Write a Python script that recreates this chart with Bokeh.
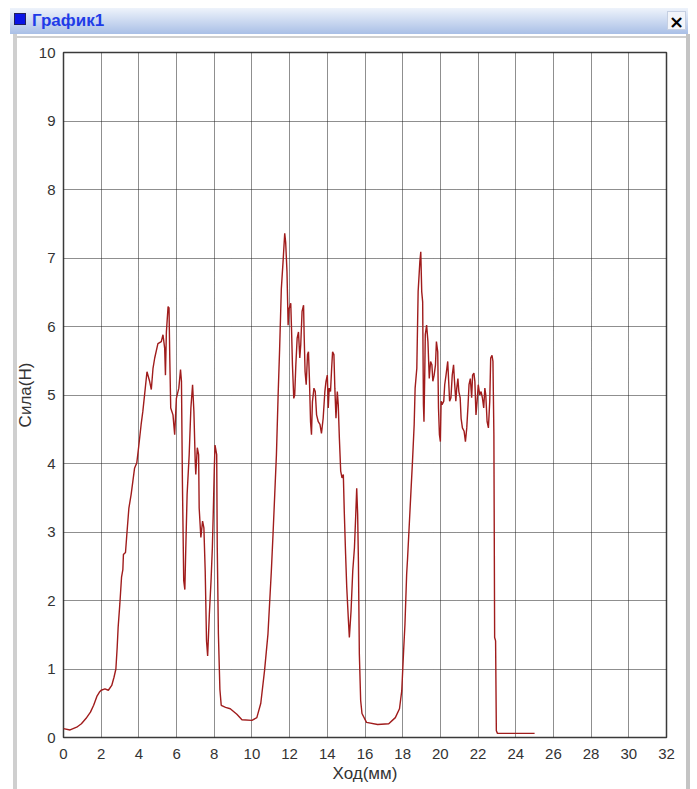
from bokeh.plotting import figure
from bokeh.models import Range1d, FixedTicker, Div
from bokeh.layouts import column
from bokeh.embed import file_html
from bokeh.resources import INLINE

# ---------------- data ----------------
travel_mm = [
    0.0, 0.35, 0.7, 0.95, 1.2, 1.43, 1.6, 1.77, 1.9, 2.0, 2.2, 2.38, 2.56, 2.68, 2.78, 2.85, 2.9, 2.99, 3.08, 3.15,
    3.18, 3.29, 3.36, 3.47, 3.59, 3.68, 3.77, 3.89, 4.0, 4.12, 4.21, 4.34, 4.43, 4.57, 4.66, 4.75, 4.84, 5.01, 5.19, 5.28,
    5.37, 5.41, 5.46, 5.55, 5.6, 5.64, 5.69, 5.81, 5.9, 5.99, 6.12, 6.21, 6.26, 6.31, 6.38, 6.44, 6.49, 6.56, 6.67, 6.76,
    6.85, 6.92, 6.99, 7.02, 7.1, 7.17, 7.2, 7.29, 7.38, 7.45, 7.52, 7.59, 7.65, 7.74, 7.83, 7.9, 7.95, 8.0, 8.04, 8.13,
    8.16, 8.22, 8.3, 8.37, 8.6, 8.85, 9.2, 9.47, 10.0, 10.26, 10.47, 10.67, 10.85, 11.03, 11.12, 11.21, 11.3, 11.39, 11.47, 11.56,
    11.65, 11.74, 11.79, 11.86, 11.92, 11.97, 12.06, 12.1, 12.15, 12.22, 12.27, 12.33, 12.4, 12.47, 12.54, 12.59, 12.66, 12.74, 12.77, 12.82,
    12.88, 12.95, 13.0, 13.05, 13.11, 13.16, 13.21, 13.29, 13.36, 13.43, 13.52, 13.61, 13.69, 13.78, 13.87, 13.93, 14.0, 14.05, 14.1, 14.17,
    14.23, 14.28, 14.35, 14.4, 14.46, 14.53, 14.58, 14.64, 14.71, 14.78, 14.85, 14.9, 14.97, 15.03, 15.12, 15.17, 15.26, 15.35, 15.44, 15.51,
    15.56, 15.61, 15.65, 15.7, 15.77, 15.84, 16.08, 16.67, 17.26, 17.61, 17.83, 17.95, 18.05, 18.12, 18.21, 18.26, 18.35, 18.44, 18.52, 18.61,
    18.66, 18.75, 18.82, 18.91, 18.96, 19.01, 19.06, 19.1, 19.13, 19.17, 19.2, 19.27, 19.34, 19.41, 19.48, 19.55, 19.6, 19.67, 19.74, 19.79,
    19.86, 19.9, 19.95, 20.0, 20.04, 20.09, 20.18, 20.23, 20.3, 20.39, 20.44, 20.49, 20.56, 20.63, 20.7, 20.75, 20.82, 20.87, 20.93, 20.98,
    21.05, 21.1, 21.17, 21.26, 21.33, 21.4, 21.47, 21.52, 21.59, 21.66, 21.71, 21.78, 21.83, 21.89, 21.95, 22.01, 22.09, 22.16, 22.23, 22.3,
    22.36, 22.41, 22.48, 22.55, 22.62, 22.67, 22.74, 22.79, 22.84, 22.88, 22.93, 22.97, 23.03, 25.0,
]
force_n = [
    0.13, 0.11, 0.15, 0.2, 0.28, 0.37, 0.47, 0.6, 0.66, 0.69, 0.71, 0.69, 0.76, 0.88, 1.0, 1.32, 1.61, 1.95, 2.34, 2.45,
    2.67, 2.7, 2.96, 3.35, 3.55, 3.74, 3.93, 4.01, 4.27, 4.57, 4.76, 5.1, 5.34, 5.2, 5.08, 5.39, 5.54, 5.75, 5.78, 5.88,
    5.68, 5.29, 5.92, 6.29, 6.27, 5.54, 4.81, 4.71, 4.42, 4.95, 5.1, 5.37, 5.2, 3.74, 2.29, 2.16, 2.77, 3.55, 4.13, 4.81,
    5.15, 4.76, 4.03, 3.84, 4.23, 4.13, 3.35, 2.92, 3.16, 3.06, 2.43, 1.41, 1.19, 1.8, 2.29, 2.77, 3.3, 3.89, 4.27, 4.13,
    2.77, 1.51, 0.7, 0.47, 0.44, 0.42, 0.34, 0.26, 0.25, 0.29, 0.5, 0.98, 1.51, 2.43, 2.97, 3.55, 4.13, 5.0, 5.68, 6.55,
    6.94, 7.36, 7.23, 6.8, 6.02, 6.26, 6.34, 5.97, 5.44, 4.95, 5.0, 5.44, 5.83, 5.92, 5.54, 5.73, 6.22, 6.31, 5.88, 5.34,
    5.15, 5.59, 5.63, 5.24, 4.61, 4.42, 4.9, 5.1, 5.05, 4.71, 4.61, 4.57, 4.44, 4.66, 5.05, 5.2, 5.29, 4.81, 5.1, 5.05,
    5.39, 5.63, 5.59, 5.1, 4.66, 5.05, 4.86, 4.37, 3.89, 3.79, 3.84, 3.3, 2.68, 2.2, 1.71, 1.46, 1.85, 2.43, 2.77, 3.26,
    3.64, 3.26, 2.58, 1.22, 0.54, 0.35, 0.22, 0.19, 0.2, 0.29, 0.42, 0.68, 1.27, 1.65, 2.38, 2.62, 3.11, 3.6, 4.03, 4.57,
    5.1, 5.39, 6.51, 6.94, 7.09, 6.51, 6.36, 4.86, 4.61, 5.29, 5.88, 6.02, 5.78, 5.24, 5.49, 5.44, 5.2, 5.29, 5.44, 5.78,
    5.63, 4.81, 4.42, 4.32, 4.91, 4.86, 4.91, 5.15, 5.29, 5.49, 5.2, 4.91, 4.96, 5.29, 5.44, 5.2, 4.91, 5.1, 5.24, 5.05,
    4.96, 4.66, 4.52, 4.47, 4.32, 4.52, 4.86, 5.15, 5.24, 4.96, 5.29, 5.32, 5.2, 4.71, 4.91, 5.15, 5.0, 5.05, 4.96, 4.81,
    5.1, 5.0, 4.61, 4.52, 4.91, 5.54, 5.58, 5.49, 4.42, 1.46, 1.41, 0.1, 0.06, 0.06,
]
x_ticks = [0, 2, 4, 6, 8, 10, 12, 14, 16, 18, 20, 22, 24, 26, 28, 30, 32]
y_ticks = [0, 1, 2, 3, 4, 5, 6, 7, 8, 9, 10]
window_title = "График1"
x_label = "Ход(мм)"
y_label = "Сила(Н)"

FONT = "Liberation Sans"

# ---------------- window title bar (HTML) ----------------
header_html = (
    '<div style="position:relative;width:697px;height:38px;background:#ffffff;overflow:visible;">'
    '<div style="position:absolute;left:10px;top:8px;width:678px;height:26px;'
    'background:linear-gradient(#eef3fb,#a9bfe6);"></div>'
    '<div style="position:absolute;left:17px;top:36px;width:669px;height:2px;background:#cfcfcf;"></div>'
    '<div style="position:absolute;left:13px;top:34px;width:4px;height:760px;background:#cfcfcf;z-index:50;"></div>'
    '<div style="position:absolute;left:686px;top:34px;width:4px;height:760px;background:#c4c4c4;z-index:50;"></div>'
    '<div style="position:absolute;left:14px;top:13px;width:12px;height:12px;background:#0a14e6;'
    'border:1px solid #202060;"></div>'
    '<div style="position:absolute;left:32px;top:9px;height:24px;line-height:24px;'
    "font-family:'Liberation Sans';font-size:17px;font-weight:bold;color:#1f3ce8;\">"
    + window_title +
    '</div>'
    '<div style="position:absolute;left:667px;top:11px;width:19px;height:19px;background:#f3f5fa;'
    "border:1px solid #c5cfe2;font-family:'DejaVu Sans';font-size:18px;font-weight:bold;"
    'text-align:center;line-height:19px;color:#000;">×</div>'
    '</div>'
)
header = Div(text=header_html, width=697, height=38, margin=(0, 0, 0, 0))

# ---------------- main chart ----------------
p = figure(width=697, height=751, x_range=Range1d(0, 32), y_range=Range1d(0, 10),
           toolbar_location=None, output_backend="svg",
           min_border_left=63, min_border_right=31, min_border_top=14, min_border_bottom=52,
           background_fill_color="white", border_fill_color="white")

p.line(travel_mm, force_n, line_color="#a01c1c", line_width=1.4)

p.xaxis.ticker = FixedTicker(ticks=x_ticks)
p.yaxis.ticker = FixedTicker(ticks=y_ticks)
p.xaxis.axis_label = x_label
p.yaxis.axis_label = y_label
for ax in (p.xaxis, p.yaxis):
    ax.major_tick_out = 0
    ax.major_tick_in = 0
    ax.minor_tick_out = 0
    ax.minor_tick_in = 0
    ax.axis_line_color = None
    ax.major_label_text_font = FONT
    ax.major_label_text_font_size = "15px"
    ax.major_label_text_color = "#333333"
    ax.axis_label_text_font = FONT
    ax.axis_label_text_font_size = "17px"
    ax.axis_label_text_font_style = "normal"
    ax.axis_label_text_color = "#333333"
p.xaxis.major_label_standoff = 11
p.xaxis.axis_label_standoff = 2
p.yaxis.major_label_standoff = 8
p.yaxis.axis_label_standoff = 1

for g in (p.xgrid, p.ygrid):
    g.grid_line_color = "#1e1e1e"
    g.grid_line_dash = "1 1"
    g.grid_line_width = 1
p.outline_line_color = "#3a3a3a"
p.outline_line_width = 1.5

layout = column(header, p, spacing=0)
open("out.html", "w").write(file_html(layout, INLINE))
